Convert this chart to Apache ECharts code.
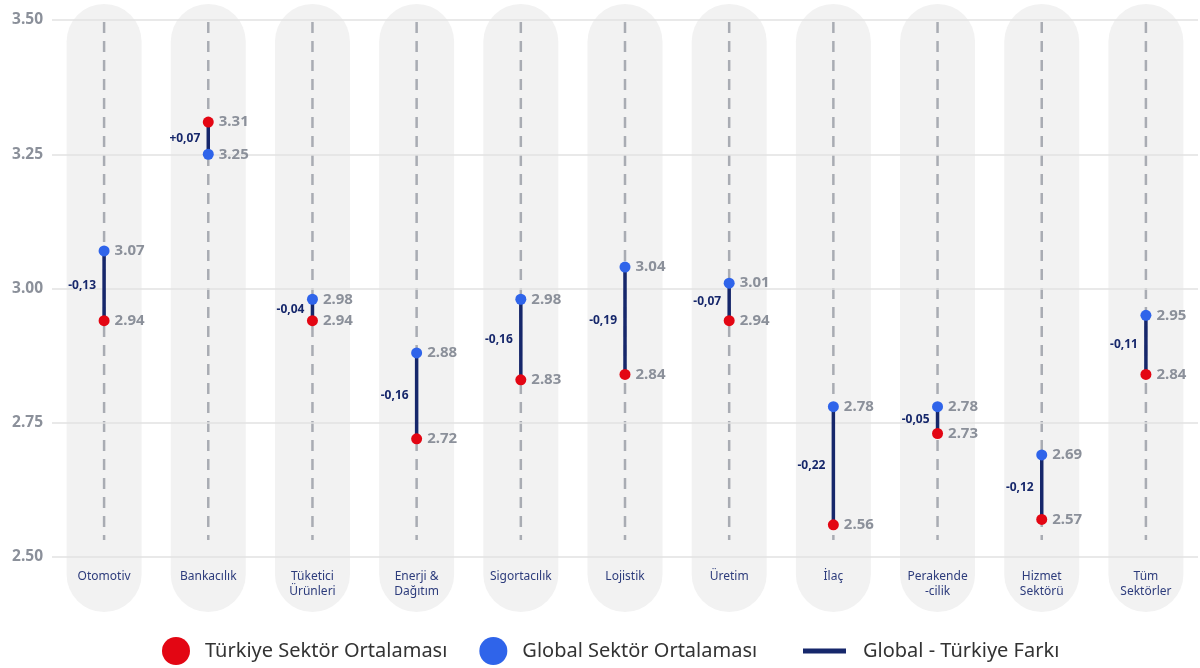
<!DOCTYPE html>
<html>
<head>
<meta charset="utf-8">
<script src="https://cdn.jsdelivr.net/npm/echarts@6/dist/echarts.min.js"></script>
<style>
html, body { margin: 0; padding: 0; background: #fff; }
#chart { width: 1200px; height: 668px; }
</style>
</head>
<body>
<div id="chart"></div>
<script>
// sektorler
var sectors = ['Otomotiv', 'Bankacılık', 'Tüketici\nÜrünleri', 'Enerji &\nDağıtım', 'Sigortacılık', 'Lojistik', 'Üretim', 'İlaç', 'Perakende\n-cilik', 'Hizmet\nSektörü', 'Tüm\nSektörler'];
// Global ortalama
var globalAvg = [3.07, 3.25, 2.98, 2.88, 2.98, 3.04, 3.01, 2.78, 2.78, 2.69, 2.95];
// Türkiye ortalama
var turkeyAvg = [2.94, 3.31, 2.94, 2.72, 2.83, 2.84, 2.94, 2.56, 2.73, 2.57, 2.84];
// fark etiketleri
var diffLabels = ['-0,13', '+0,07', '-0,04', '-0,16', '-0,16', '-0,19', '-0,07', '-0,22', '-0,05', '-0,12', '-0,11'];

var RED = '#e30613';
var BLUE = '#2f64ea';
var NAVY = '#16276b';
var FONT = '"Noto Sans", sans-serif';

var myChart = echarts.init(document.getElementById('chart'));

var pillData = sectors.map(function (s, i) { return [i, 3.5]; });
var diffData = sectors.map(function (s, i) { return [i, turkeyAvg[i], globalAvg[i]]; });

var pointLabel = {
    show: true,
    position: 'right',
    distance: 5,
    color: '#8b909a',
    fontSize: 15,
    fontWeight: 'bold',
    fontFamily: FONT,
    formatter: function (p) { return p.value[1].toFixed(2); }
};

var option = {
    animation: false,
    backgroundColor: '#fff',
    textStyle: { fontFamily: FONT },
    grid: { left: 52, right: 2, top: 20, bottom: 111, containLabel: false },
    legend: [{
        top: 637,
        left: 162,
        padding: 0,
        itemWidth: 34,
        itemHeight: 28,
        itemGap: 32,
        symbolKeepAspect: false,
        textStyle: { fontSize: 20, lineHeight: 28, color: '#333', fontFamily: FONT, padding: [0, 0, 0, 7] },
        data: [
            { name: 'Türkiye Sektör Ortalaması', icon: 'circle' },
            { name: 'Global Sektör Ortalaması', icon: 'circle' }
        ]
    }, {
        top: 637,
        left: 803,
        padding: 0,
        itemWidth: 43,
        itemHeight: 5,
        symbolKeepAspect: false,
        textStyle: { fontSize: 20, lineHeight: 28, color: '#333', fontFamily: FONT, padding: [0, 0, 0, 12] },
        data: [{ name: 'Global - Türkiye Farkı', icon: 'rect' }]
    }],
    xAxis: {
        type: 'category',
        data: sectors,
        boundaryGap: true,
        z: 5,
        axisLine: { show: false },
        axisTick: { show: false },
        axisLabel: {
            margin: 12,
            color: '#2d3c7c',
            fontSize: 12,
            lineHeight: 15,
            interval: 0,
            fontFamily: FONT
        }
    },
    yAxis: {
        type: 'value',
        min: 2.5,
        max: 3.5,
        interval: 0.25,
        z: 5,
        axisLine: { show: false },
        axisTick: { show: false },
        splitLine: { lineStyle: { color: '#e2e2e2', width: 1.5 } },
        axisLabel: {
            margin: 9,
            color: '#8b909a',
            fontSize: 15.5,
            fontWeight: 'bold',
            fontFamily: FONT,
            formatter: function (v) { return v.toFixed(2); }
        }
    },
    series: [{
        // gri arka plan + kesikli cizgi
        type: 'custom',
        z: 1,
        silent: true,
        clip: false,
        data: pillData,
        renderItem: function (params, api) {
            var top = api.coord([api.value(0), 3.5]);
            var bottom = api.coord([api.value(0), 2.5]);
            var w = 75;
            return {
                type: 'group',
                children: [{
                    type: 'rect',
                    shape: { x: top[0] - w / 2, y: top[1] - 16, width: w, height: bottom[1] - top[1] + 71, r: w / 2 },
                    style: { fill: '#f2f2f2' }
                }, {
                    type: 'line',
                    shape: { x1: top[0], y1: top[1] + 2, x2: top[0], y2: bottom[1] - 17 },
                    style: { stroke: '#a9acb3', lineWidth: 2.5, lineDash: [11, 8] }
                }]
            };
        }
    }, {
        name: 'Global - Türkiye Farkı',
        type: 'custom',
        z: 6,
        itemStyle: { color: NAVY },
        data: diffData,
        renderItem: function (params, api) {
            var p1 = api.coord([api.value(0), api.value(1)]);
            var p2 = api.coord([api.value(0), api.value(2)]);
            return {
                type: 'group',
                children: [{
                    type: 'line',
                    shape: { x1: p1[0], y1: p1[1], x2: p2[0], y2: p2[1] },
                    style: { stroke: NAVY, lineWidth: 3.5 }
                }, {
                    type: 'text',
                    style: {
                        x: p1[0] - 8,
                        y: (p1[1] + p2[1]) / 2,
                        text: diffLabels[params.dataIndex],
                        align: 'right',
                        verticalAlign: 'middle',
                        fill: NAVY,
                        font: 'bold 12px ' + FONT
                    }
                }]
            };
        }
    }, {
        name: 'Türkiye Sektör Ortalaması',
        type: 'scatter',
        z: 8,
        symbolSize: 11,
        itemStyle: { color: RED, opacity: 1 },
        label: pointLabel,
        data: turkeyAvg.map(function (v, i) { return [i, v]; })
    }, {
        name: 'Global Sektör Ortalaması',
        type: 'scatter',
        z: 8,
        symbolSize: 11,
        itemStyle: { color: BLUE, opacity: 1 },
        label: pointLabel,
        data: globalAvg.map(function (v, i) { return [i, v]; })
    }]
};

myChart.setOption(option);
</script>
</body>
</html>
